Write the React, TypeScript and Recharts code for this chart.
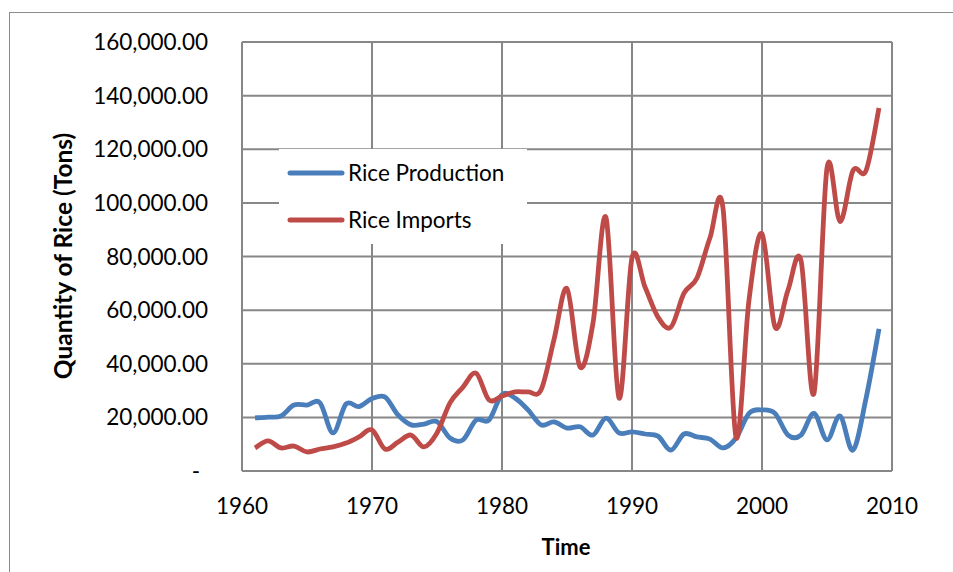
import React from 'react';
import { LineChart, Line, XAxis, YAxis, CartesianGrid, Legend } from 'recharts';

const years = [
  1961, 1962, 1963, 1964, 1965, 1966, 1967, 1968, 1969, 1970,
  1971, 1972, 1973, 1974, 1975, 1976, 1977, 1978, 1979, 1980,
  1981, 1982, 1983, 1984, 1985, 1986, 1987, 1988, 1989, 1990,
  1991, 1992, 1993, 1994, 1995, 1996, 1997, 1998, 1999, 2000,
  2001, 2002, 2003, 2004, 2005, 2006, 2007, 2008, 2009,
];
const riceProduction = [
  19800, 20100, 20500, 24600, 24600, 25400, 14200, 25000, 24000, 27000,
  27600, 20900, 17200, 17500, 18400, 12300, 11600, 19000, 19000, 28500,
  27200, 22800, 17200, 18300, 16000, 16500, 13400, 19700, 14200, 14600,
  13800, 13000, 7800, 13800, 12700, 11900, 8600, 12300, 21500, 22800,
  21500, 13400, 13400, 21500, 11600, 20500, 7800, 27000, 53000,
];
const riceImports = [
  8600, 11200, 8600, 9300, 7100, 8200, 9000, 10400, 12700, 15300,
  8200, 10800, 13400, 9000, 14200, 25400, 31300, 36500, 26500, 28000,
  29500, 29500, 30200, 49000, 68000, 38800, 55200, 94500, 27200, 79500,
  68600, 57400, 53700, 66300, 72000, 87000, 98000, 12700, 63800, 88500,
  53700, 67500, 78500, 29000, 113000, 93000, 112000, 112000, 135400,
];
const seriesNames = ['Rice Production', 'Rice Imports'];
const xTicks = [1960, 1970, 1980, 1990, 2000, 2010];
const yTicks = [0, 20000, 40000, 60000, 80000, 100000, 120000, 140000, 160000];

const data = years.map((year, i) => ({
  year,
  production: riceProduction[i],
  imports: riceImports[i],
}));

const FONT = 'Lato, "Liberation Sans", sans-serif';
const GRID = '#878787';

// excel-style smoothed line (catmull-rom through every point)
const excelSmooth = (ctx: any) => {
  let pts: number[][] = [];
  return {
    areaStart() {},
    areaEnd() {},
    lineStart() { pts = []; },
    lineEnd() {
      if (!pts.length) return;
      ctx.moveTo(pts[0][0], pts[0][1]);
      for (let i = 0; i < pts.length - 1; i++) {
        const p0 = pts[i - 1] || pts[i];
        const p1 = pts[i];
        const p2 = pts[i + 1];
        const p3 = pts[i + 2] || p2;
        ctx.bezierCurveTo(
          p1[0] + (p2[0] - p0[0]) / 6, p1[1] + (p2[1] - p0[1]) / 6,
          p2[0] - (p3[0] - p1[0]) / 6, p2[1] - (p3[1] - p1[1]) / 6,
          p2[0], p2[1],
        );
      }
    },
    point(x: number, y: number) { pts.push([+x, +y]); },
  };
};

const fmt = (v: number) =>
  v === 0 ? '-' : v.toLocaleString('en-US', { minimumFractionDigits: 2, maximumFractionDigits: 2 });

const YTick = ({ y, payload }: any) => {
  const v = payload.value;
  return (
    <text x={v === 0 ? 196 : 208} y={y + 8} textAnchor={v === 0 ? 'middle' : 'end'}
      fontFamily={FONT} fontSize={22.5} fill="#000">
      {fmt(v)}
    </text>
  );
};

const XTick = ({ x, payload }: any) => (
  <text x={x} y={514} textAnchor="middle" fontFamily={FONT} fontSize={22.5} fill="#000">
    {payload.value}
  </text>
);

const renderLegend = ({ payload }: any) => {
  const items = seriesNames
    .map((n) => (payload || []).find((p: any) => p.value === n))
    .filter(Boolean);
  return (
    <div style={{ background: '#fff', width: 248, height: 95 }}>
      {items.map((p: any) => (
        <div key={p.value} style={{ display: 'flex', alignItems: 'center', height: 47 }}>
          <svg width={69} height={10} style={{ flexShrink: 0 }}>
            <line x1={11} y1={5} x2={63} y2={5} stroke={p.color} strokeWidth={5} strokeLinecap="round" />
          </svg>
          <span style={{ fontFamily: FONT, fontSize: 22.5, color: '#000' }}>{p.value}</span>
        </div>
      ))}
    </div>
  );
};

export default function App() {
  return (
    <div style={{ position: 'fixed', left: 0, top: 0, width: 953, height: 572, overflow: 'hidden', background: '#fff' }}>
      <div style={{ position: 'absolute', left: 9, top: 12, width: 1000, height: 700, border: '1.5px solid #8c8c8c' }} />
      <div style={{ position: 'absolute', left: 0, top: 0 }}>
        <LineChart width={953} height={572} data={data} margin={{ top: 42, right: 61, left: 0, bottom: 0 }}>
          <CartesianGrid stroke={GRID} strokeWidth={2} horizontalValues={yTicks} verticalValues={xTicks} />
          <XAxis dataKey="year" type="number" domain={[1960, 2010]} ticks={xTicks} height={101}
            axisLine={false} tickLine={false} tick={<XTick />} interval={0}
            label={{
              content: () => (
                <text x={566} y={555} textAnchor="middle" fontFamily={FONT} fontWeight="bold" fontSize={22} fill="#000">Time</text>
              ),
            }} />
          <YAxis type="number" domain={[0, 160000]} ticks={yTicks} width={242}
            axisLine={false} tickLine={false} tick={<YTick />} interval={0}
            label={{
              content: () => (
                <text transform="translate(72,256) rotate(-90)" textAnchor="middle" fontFamily={FONT}
                  fontWeight="bold" fontSize={24.5} fill="#000">Quantity of Rice (Tons)</text>
              ),
            }} />
          <Legend layout="horizontal" verticalAlign="middle" align="center" content={renderLegend}
            wrapperStyle={{ left: 279, top: 149, width: 248, height: 95 }} />
          <Line dataKey="production" name="Rice Production" stroke="#4A7EBB" strokeWidth={4.8}
            type={excelSmooth as any} dot={false} activeDot={false} isAnimationActive={false} />
          <Line dataKey="imports" name="Rice Imports" stroke="#BE4B48" strokeWidth={4.8}
            type={excelSmooth as any} dot={false} activeDot={false} isAnimationActive={false} />
        </LineChart>
      </div>
    </div>
  );
}
